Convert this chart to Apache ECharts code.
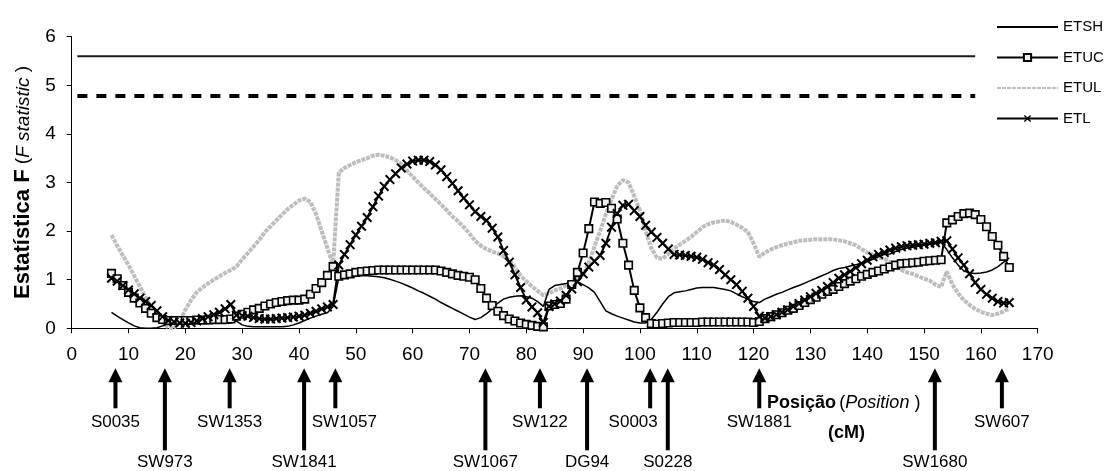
<!DOCTYPE html>
<html lang="pt">
<head>
    <meta charset="UTF-8">
    <title>Estatística F</title>
    <script src="https://cdn.jsdelivr.net/npm/echarts@6/dist/echarts.min.js"></script>
    <style>
        html, body { margin: 0; padding: 0; background: #fff; }
    </style>
</head>
<body>
<div id="main" style="width: 1104px;height:471px;"></div>

<script type="text/javascript">
    // posições (cM) onde as estatísticas foram calculadas
    var posicoes = [7,8,9,10,11,12,13,14,15,16,17,18,19,20,21,22,23,24,25,26,27,28,29,30,31,32,33,34,35,36,
        37,38,39,40,41,42,43,44,45,46,47,48,49,50,51,52,53,54,55,56,57,58,59,60,61,62,63,64,65,66,
        67,68,69,70,71,72,73,74,75,76,77,78,79,80,81,82,83,84,85,86,87,88,89,90,91,92,93,94,95,96,
        97,98,99,100,101,102,103,104,105,106,107,108,109,110,111,112,113,114,115,116,117,118,119,120,121,122,123,124,125,126,
        127,128,129,130,131,132,133,134,135,136,137,138,139,140,141,142,143,144,145,146,147,148,149,150,151,152,153,154,155,156,
        157,158,159,160,161,162,163,164,165];

    var etsh = [0.33,0.25,0.18,0.11,0.05,0.01,0,0,0.01,0.05,
        0.09,0.1,0.1,0.1,0.1,0.1,0.1,0.1,0.1,0.1,
        0.1,0.11,0.15,0.07,0.04,0.03,0.03,0.03,0.03,0.03,
        0.03,0.04,0.07,0.11,0.16,0.21,0.25,0.29,0.32,0.45,
        1.04,1.06,1.07,1.08,1.08,1.08,1.07,1.06,1.04,1.01,
        0.97,0.93,0.88,0.83,0.77,0.72,0.66,0.6,0.53,0.47,
        0.41,0.35,0.29,0.23,0.18,0.22,0.3,0.4,0.52,0.6,
        0.64,0.66,0.67,0.65,0.62,0.55,0.45,0.8,0.88,0.9,
        0.92,0.95,0.96,0.9,0.83,0.74,0.55,0.36,0.3,0.25,
        0.21,0.17,0.13,0.11,0.11,0.18,0.33,0.5,0.65,0.73,
        0.75,0.77,0.8,0.83,0.84,0.84,0.84,0.82,0.8,0.77,
        0.71,0.65,0.6,0.55,0.53,0.6,0.65,0.7,0.74,0.79,
        0.84,0.88,0.93,0.98,1.03,1.08,1.13,1.19,1.23,1.25,
        1.28,1.31,1.34,1.37,1.42,1.47,1.52,1.53,1.58,1.62,
        1.65,1.67,1.69,1.71,1.73,1.75,1.77,1.62,1.45,1.3,
        1.18,1.14,1.13,1.14,1.16,1.2,1.27,1.36,1.45];

    var etuc = [1.13,1.02,0.88,0.74,0.62,0.52,0.41,0.31,0.22,0.18,
        0.16,0.16,0.16,0.16,0.16,0.17,0.17,0.17,0.18,0.18,
        0.18,0.19,0.25,0.29,0.33,0.38,0.41,0.46,0.5,0.53,
        0.55,0.57,0.58,0.58,0.6,0.7,0.82,0.94,1.09,1.27,
        1.07,1.1,1.12,1.15,1.17,1.18,1.19,1.2,1.2,1.2,
        1.2,1.2,1.2,1.2,1.2,1.2,1.2,1.2,1.18,1.15,
        1.12,1.09,1.07,1.05,1.0,0.82,0.62,0.47,0.35,0.26,
        0.19,0.15,0.11,0.08,0.06,0.04,0.03,0.46,0.49,0.51,
        0.6,0.9,1.15,1.55,2.05,2.6,2.57,2.59,2.47,2.25,
        1.75,1.3,0.78,0.42,0.22,0.1,0.09,0.1,0.11,0.12,
        0.12,0.12,0.12,0.12,0.13,0.13,0.13,0.13,0.13,0.13,
        0.13,0.13,0.13,0.12,0.14,0.2,0.24,0.28,0.32,0.37,
        0.41,0.47,0.53,0.59,0.64,0.7,0.76,0.8,0.86,0.92,
        0.97,1.02,1.07,1.11,1.15,1.18,1.22,1.26,1.3,1.33,
        1.34,1.35,1.36,1.38,1.39,1.4,1.41,2.17,2.23,2.3,
        2.36,2.37,2.34,2.24,2.09,1.89,1.71,1.48,1.25];

    var etul = [1.92,1.7,1.5,1.3,1.08,0.86,0.64,0.44,0.25,0.1,
        0.02,0,0.15,0.38,0.58,0.74,0.84,0.92,1.0,1.07,
        1.14,1.2,1.27,1.42,1.55,1.68,1.82,1.98,2.1,2.22,
        2.34,2.45,2.54,2.63,2.67,2.6,2.35,2.0,1.65,1.3,
        3.2,3.3,3.36,3.42,3.46,3.5,3.55,3.57,3.55,3.52,
        3.46,3.38,3.25,3.12,3.0,2.88,2.78,2.66,2.55,2.43,
        2.3,2.2,2.08,1.95,1.8,1.7,1.63,1.58,1.54,1.48,
        1.4,1.25,1.08,0.97,0.86,0.77,0.68,0.72,0.78,0.82,
        0.88,0.95,1.02,1.1,1.35,1.68,2.0,2.35,2.65,2.93,
        3.05,3.0,2.72,2.42,2.0,1.65,1.45,1.43,1.53,1.64,
        1.72,1.8,1.88,1.98,2.08,2.14,2.18,2.2,2.22,2.19,
        2.13,2.07,1.98,1.75,1.47,1.56,1.62,1.67,1.71,1.74,
        1.77,1.8,1.81,1.82,1.83,1.83,1.83,1.83,1.81,1.79,
        1.75,1.71,1.63,1.56,1.51,1.46,1.43,1.37,1.29,1.2,
        1.15,1.12,1.07,1.02,0.98,0.9,0.85,1.17,0.9,0.72,
        0.58,0.48,0.4,0.34,0.3,0.27,0.3,0.35,0.41];

    var etl = [1.03,0.97,0.88,0.79,0.71,0.62,0.55,0.47,0.36,0.24,
        0.16,0.13,0.11,0.1,0.12,0.15,0.2,0.24,0.28,0.33,
        0.4,0.49,0.27,0.26,0.25,0.22,0.2,0.19,0.19,0.2,
        0.21,0.22,0.23,0.25,0.27,0.31,0.35,0.4,0.44,0.49,
        1.3,1.52,1.72,1.92,2.1,2.28,2.5,2.72,2.92,3.06,
        3.18,3.3,3.38,3.44,3.46,3.46,3.43,3.36,3.26,3.12,
        2.98,2.83,2.68,2.54,2.4,2.3,2.22,2.06,1.88,1.6,
        1.36,1.1,0.84,0.58,0.44,0.32,0.12,0.45,0.5,0.56,
        0.68,0.81,0.96,1.12,1.26,1.38,1.5,1.75,2.08,2.36,
        2.53,2.55,2.42,2.3,2.12,1.98,1.87,1.75,1.63,1.52,
        1.51,1.5,1.48,1.46,1.42,1.35,1.3,1.21,1.1,1.0,
        0.9,0.76,0.62,0.45,0.25,0.21,0.24,0.28,0.33,0.38,
        0.45,0.51,0.58,0.65,0.72,0.78,0.86,0.94,1.03,1.1,
        1.17,1.25,1.33,1.4,1.47,1.52,1.56,1.61,1.65,1.68,
        1.7,1.71,1.72,1.73,1.75,1.76,1.79,1.8,1.63,1.45,
        1.3,1.12,0.94,0.8,0.7,0.62,0.55,0.52,0.53];

    // limiares (linhas horizontais) e o intervalo em que são desenhados
    var limiarAlto = 5.6;
    var limiarBaixo = 4.78;
    var limiarInicio = 1;
    var limiarFim = 159;

    // marcadores (setas abaixo do eixo)
    var marcadores = ['S0035','SW973','SW1353','SW1841','SW1057','SW1067','SW122','DG94','S0003','S0228','SW1881','SW1680','SW607'];
    var marcadorPos = [7.7,16.4,27.8,40.9,46.4,72.8,82.4,90.7,101.8,104.9,121,151.9,163.7];
    var marcadorLinha = [1,2,1,2,1,2,1,2,1,2,1,2,1];

    var xTicks = [0,10,20,30,40,50,60,70,80,90,100,110,120,130,140,150,160,170];
    var yTicks = [0,1,2,3,4,5,6];

    var fonte = 'Liberation Sans, Arial, sans-serif';

    function pares(vals) {
        return posicoes.map(function (p, i) { return [p, vals[i]]; });
    }

    var simboloX = 'path://M0,1.4L1.4,0L5,3.6L8.6,0L10,1.4L6.4,5L10,8.6L8.6,10L5,6.4L1.4,10L0,8.6L3.6,5Z';

    // deslocamento horizontal de alguns rótulos (como no original)
    var ajusteRotulo = {S0003: -17, SW1057: 9};

    var myChart = echarts.init(document.getElementById('main'));

    var option = {
        animation: false,
        backgroundColor: '#fff',
        textStyle: {fontFamily: fonte, color: '#000'},
        grid: {left: 71.7, right: 66.3, top: 36.7, bottom: 142.7},
        legend: {
            orient: 'vertical',
            left: 991,
            top: 13,
            itemWidth: 61,
            itemHeight: 9,
            itemGap: 12.5,
            textStyle: {fontSize: 15, color: '#000', fontFamily: fonte, lineHeight: 18},
            data: ['ETSH', 'ETUC', 'ETUL', 'ETL']
        },
        xAxis: {
            type: 'value',
            min: xTicks[0],
            max: xTicks[xTicks.length - 1],
            interval: 10,
            splitLine: {show: false},
            axisLine: {lineStyle: {color: '#000', width: 1}},
            axisTick: {show: true, length: 5, lineStyle: {color: '#000'}},
            axisLabel: {fontSize: 19, color: '#000', margin: 17, fontFamily: fonte}
        },
        yAxis: {
            type: 'value',
            min: yTicks[0],
            max: yTicks[yTicks.length - 1],
            interval: 1,
            splitLine: {show: false},
            axisLine: {show: true, lineStyle: {color: '#000', width: 1}},
            axisTick: {show: true, length: 5, lineStyle: {color: '#000'}},
            axisLabel: {fontSize: 19, color: '#000', margin: 16, fontFamily: fonte},
            name: '{b|Estatística F}{n| (}{i|F statistic}{n| )}',
            nameLocation: 'middle',
            nameRotate: 90,
            nameGap: 36,
            nameTextStyle: {
                rich: {
                    b: {fontWeight: 'bold', fontSize: 22, fontFamily: fonte, color: '#000'},
                    n: {fontSize: 19, fontFamily: fonte, color: '#000'},
                    i: {fontStyle: 'italic', fontSize: 19, fontFamily: fonte, color: '#000'}
                }
            }
        },
        graphic: [
            {
                type: 'text', left: 767, top: 394,
                style: {
                    text: '{b|Posição} {n|(}{i|Position}{n| )}',
                    rich: {
                        b: {fontWeight: 'bold', fontSize: 18, fontFamily: fonte, fill: '#000'},
                        n: {fontSize: 18, fontFamily: fonte, fill: '#000'},
                        i: {fontStyle: 'italic', fontSize: 18, fontFamily: fonte, fill: '#000'}
                    }
                }
            },
            {
                type: 'text', left: 828, top: 424,
                style: {text: '(cM)', font: 'bold 18px ' + fonte, fill: '#000'}
            }
        ],
        series: [
            {
                name: 'limiarAlto', type: 'line', symbol: 'none', silent: true,
                data: [[limiarInicio, limiarAlto], [limiarFim, limiarAlto]],
                lineStyle: {color: '#1a1a1a', width: 2}
            },
            {
                name: 'limiarBaixo', type: 'line', symbol: 'none', silent: true,
                data: [[limiarInicio, limiarBaixo], [limiarFim, limiarBaixo]],
                lineStyle: {color: '#000', width: 4, type: [10, 9]}
            },
            {
                name: 'ETUL', type: 'line', symbol: 'none',
                data: pares(etul),
                itemStyle: {color: 'rgba(0,0,0,0)'},
                lineStyle: {color: '#bdbdbd', width: 4, type: [4, 1]}
            },
            {
                name: 'ETSH', type: 'line', symbol: 'none',
                data: pares(etsh),
                itemStyle: {color: 'rgba(0,0,0,0)'},
                lineStyle: {color: '#000', width: 1.5}
            },
            {
                name: 'ETUC', type: 'line', symbol: 'rect', symbolSize: 7.5,
                data: pares(etuc),
                itemStyle: {color: '#f0f0f0', borderColor: '#000', borderWidth: 1.6},
                lineStyle: {color: '#000', width: 2}
            },
            {
                name: 'ETL', type: 'line', symbol: simboloX, symbolSize: 10,
                data: pares(etl),
                itemStyle: {color: '#000'},
                lineStyle: {color: '#000', width: 2}
            },
            {
                name: 'marcadores', type: 'custom', clip: false, silent: true,
                data: marcadorPos.map(function (p, i) { return [p, 0, marcadorLinha[i]]; }),
                encode: {x: 0, y: 1},
                renderItem: function (params, api) {
                    var pt = api.coord([api.value(0), 0]);
                    var x = pt[0], y0 = pt[1];
                    var linha = api.value(2);
                    var ponta = y0 + 40;
                    var fim = linha === 1 ? y0 + 80 : y0 + 122;
                    var nome = marcadores[params.dataIndex];
                    var dx = ajusteRotulo[nome] || 0;
                    return {
                        type: 'group',
                        children: [
                            {type: 'polygon', shape: {points: [[x, ponta], [x - 7, ponta + 14], [x + 7, ponta + 14]]}, style: {fill: '#000'}},
                            {type: 'rect', shape: {x: x - 2, y: ponta + 12, width: 4, height: fim - ponta - 12}, style: {fill: '#000'}},
                            {type: 'text', x: x + dx, y: linha === 1 ? y0 + 94 : y0 + 134,
                                style: {text: nome, fill: '#000', font: '17px ' + fonte, align: 'center', verticalAlign: 'middle'}}
                        ]
                    };
                }
            }
        ]
    };

    myChart.setOption(option);
</script>
</body>
</html>
